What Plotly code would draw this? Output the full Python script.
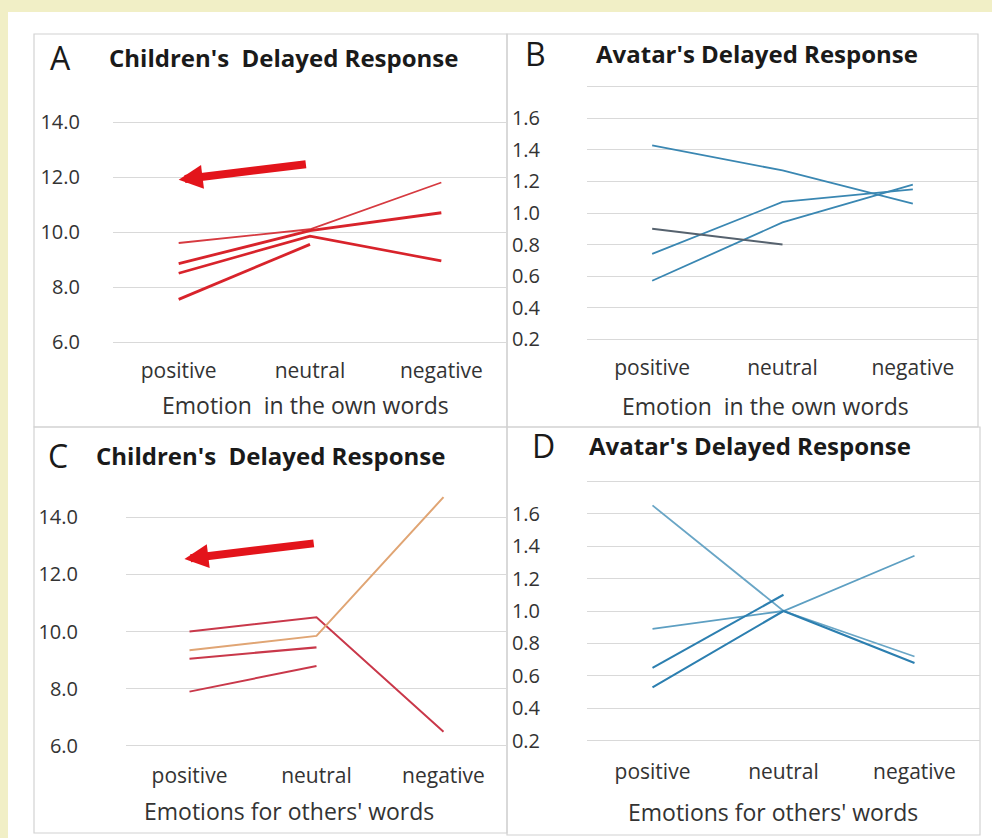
import plotly.graph_objects as go

W, H = 992, 838

categories = ["positive", "neutral", "negative"]

# Panel A: Children's delayed response (own words)
a_series = {
    "A1": [9.6, 10.1, 11.8],
    "A2": [8.85, 10.05, 10.7],
    "A3": [8.5, 9.85, 8.95],
    "A4": [7.55, 9.55, None],
}
# Panel B: Avatar's delayed response (own words)
b_series = {
    "B1": [1.43, 1.27, 1.06],
    "B2": [0.74, 1.07, 1.15],
    "B3": [0.57, 0.94, 1.18],
    "B4": [0.90, 0.80, None],
}
# Panel C: Children's delayed response (others' words)
c_series = {
    "C1": [10.0, 10.5, 6.5],
    "C2": [9.35, 9.85, 14.7],
    "C3": [9.05, 9.45, None],
    "C4": [7.9, 8.8, None],
}
# Panel D: Avatar's delayed response (others' words)
d_series = {
    "D1": [1.65, 1.0, 0.72],
    "D2": [0.89, 1.0, 1.34],
    "D3": [0.65, 1.10, None],
    "D4": [0.53, 1.0, 0.68],
}

children_ticks = [6, 8, 10, 12, 14]
children_ticktext = ["6.0", "8.0", "10.0", "12.0", "14.0"]
avatar_ticks = [0.2, 0.4, 0.6, 0.8, 1.0, 1.2, 1.4, 1.6, 1.8]
avatar_ticktext = ["0.2", "0.4", "0.6", "0.8", "1.0", "1.2", "1.4", "1.6", ""]

styles = {
    "A1": dict(color="#d63a40", width=1.8),
    "A2": dict(color="#d8232b", width=2.8),
    "A3": dict(color="#d8232b", width=2.6),
    "A4": dict(color="#d8232b", width=2.8),
    "B1": dict(color="#3a87b2", width=1.8),
    "B2": dict(color="#3a87b2", width=1.8),
    "B3": dict(color="#3a87b2", width=1.8),
    "B4": dict(color="#56626e", width=1.8),
    "C1": dict(color="#c9384a", width=2.0),
    "C2": dict(color="#e0a574", width=2.0),
    "C3": dict(color="#c9384a", width=2.2),
    "C4": dict(color="#c9384a", width=2.0),
    "D1": dict(color="#6aa6c6", width=1.8),
    "D2": dict(color="#5d9fc2", width=1.8),
    "D3": dict(color="#2c7fb0", width=2.1),
    "D4": dict(color="#2c7fb0", width=2.1),
}


def px(x):
    return x / W


def py(y):
    return 1 - y / H


FONT = "Open Sans"
TXT = "#333333"
fig = go.Figure()

panels = [
    ("x", "y", a_series),
    ("x2", "y2", b_series),
    ("x3", "y3", c_series),
    ("x4", "y4", d_series),
]
for xa, ya, series in panels:
    for name, vals in series.items():
        fig.add_trace(go.Scatter(
            x=categories, y=vals, mode="lines", name=name,
            line=styles[name], xaxis=xa, yaxis=ya, showlegend=False,
            connectgaps=False, hoverinfo="skip", cliponaxis=False,
        ))

# panel geometry (pixels)
geo = {
    1: dict(x=(113, 507), y=(343.4, 94.5), rng=[5.95, 15], tv=children_ticks, tt=children_ticktext, standoff=32, xstand=13),
    2: dict(x=(587, 978), y=(340.6, 85.4), rng=[0.19, 1.81], tv=avatar_ticks, tt=avatar_ticktext, standoff=46, xstand=12),
    3: dict(x=(126, 507), y=(747.4, 488.6), rng=[5.95, 15], tv=children_ticks, tt=children_ticktext, standoff=47, xstand=14),
    4: dict(x=(587, 980), y=(742.6, 479.4), rng=[0.19, 1.81], tv=avatar_ticks, tt=avatar_ticktext, standoff=46, xstand=14),
}
layout_axes = {}
for i, g in geo.items():
    sfx = "" if i == 1 else str(i)
    layout_axes["xaxis" + sfx] = dict(
        domain=[px(g["x"][0]), px(g["x"][1])], anchor="y" + sfx,
        type="category", categoryorder="array", categoryarray=categories,
        range=[-0.5, 2.5], showgrid=False, zeroline=False, showline=False,
        ticks="", ticklabelstandoff=g["xstand"], automargin=False,
        tickfont=dict(family=FONT, size=21, color=TXT),
    )
    layout_axes["yaxis" + sfx] = dict(
        domain=[py(g["y"][0]), py(g["y"][1])], anchor="x" + sfx,
        range=g["rng"], tickvals=g["tv"], ticktext=g["tt"],
        showgrid=True, gridcolor="#d9d9d9", gridwidth=1,
        zeroline=False, showline=False, ticks="", automargin=False,
        ticklabelstandoff=g["standoff"],
        tickfont=dict(family=FONT, size=20, color=TXT),
    )

shapes = [
    dict(type="rect", xref="paper", yref="paper", x0=px(8), x1=1.0, y0=0, y1=py(12),
         fillcolor="white", line=dict(width=0), layer="below"),
]
for (x0, y0, x1, y1) in [(34, 34, 507, 427), (507, 34, 978, 427), (34, 427, 507, 833), (507, 427, 980, 835)]:
    shapes.append(dict(type="rect", xref="paper", yref="paper",
                       x0=px(x0), x1=px(x1), y0=py(y1), y1=py(y0),
                       line=dict(color="#d2d2d2", width=1.2), layer="below"))

annotations = []
# panel letters and titles
for letter, lx, ly, title, tx, ty in [
    ("A", 60, 58, "Children's  Delayed Response", 107, 57),
    ("B", 535, 53, "Avatar's Delayed Response", 594, 53),
    ("C", 58, 455, "Children's  Delayed Response", 94, 455),
    ("D", 543, 446, "Avatar's Delayed Response", 587, 446),
]:
    annotations.append(dict(text=letter, x=px(lx), y=py(ly), xref="paper", yref="paper",
                            showarrow=False, xanchor="center", yanchor="middle",
                            font=dict(family=FONT, size=32, color="#1a1a1a")))
    annotations.append(dict(text="<b>" + title + "</b>", x=px(tx), y=py(ty), xref="paper", yref="paper",
                            showarrow=False, xanchor="left", yanchor="middle",
                            font=dict(family=FONT, size=24, color="#1a1a1a")))
# axis titles
for text, cx, cy in [
    ("Emotion  in the own words", 305, 405),
    ("Emotion  in the own words", 765, 406),
    ("Emotions for others' words", 289, 811),
    ("Emotions for others' words", 773, 812),
]:
    annotations.append(dict(text=text, x=px(cx), y=py(cy), xref="paper", yref="paper",
                            showarrow=False, xanchor="center", yanchor="middle",
                            font=dict(family=FONT, size=23, color=TXT)))

# red arrows
for xr, yr, hx, hy, tx, ty in [("x", "y", 0.0, 11.9, 0.98, 12.47), ("x3", "y3", -0.04, 12.54, 0.99, 13.09)]:
    annotations.append(dict(text="", x=hx, y=hy, ax=tx, ay=ty, xref=xr, yref=yr, axref=xr, ayref=yr,
                            showarrow=True, arrowhead=2, arrowsize=0.6, arrowwidth=8,
                            arrowcolor="#e3141b", standoff=0, startstandoff=0))

fig.update_layout(
    width=W, height=H, margin=dict(l=0, r=0, t=0, b=0, autoexpand=False),
    paper_bgcolor="#f1efc6", plot_bgcolor="rgba(0,0,0,0)",
    shapes=shapes, annotations=annotations, showlegend=False,
    **layout_axes,
)

fig.write_html("out.html", post_script="document.body.style.margin='0';",
               config={"displayModeBar": False})
